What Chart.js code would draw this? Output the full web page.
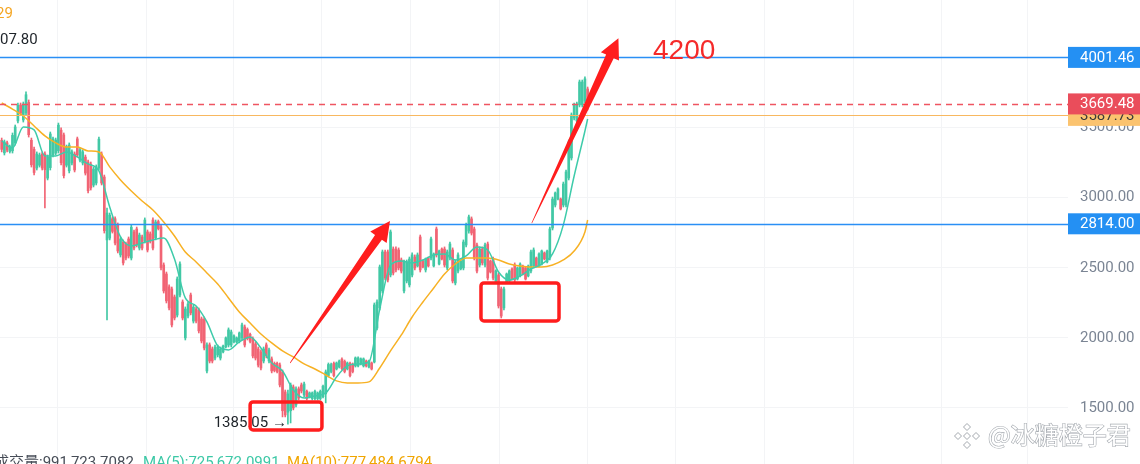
<!DOCTYPE html>
<html><head><meta charset="utf-8">
<script src="https://cdn.jsdelivr.net/npm/chart.js@4"></script>
<style>html,body{margin:0;padding:0;background:#fff;overflow:hidden}canvas{display:block}</style>
</head><body>
<canvas id="c" width="1140" height="464"></canvas>
<script>
// ---- candle data (index = time slot) ----
const openP = [3410,3320,3392,3330,3335,3390,3548,3662,3555,3605,3680,3410,3345,3212,3232,3312,3312,3140,3215,3305,3318,3335,3482,3448,3232,3192,3248,3312,3420,3268,3248,3290,3255,3240,3090,3105,3212,3312,3148,2699,2712,2850,2850,2806,2592,2684,2670,2706,2570,2756,2777,2641,2720,2691,2756,2742,2841,2713,2830,2792,2520,2456,2364,2349,2292,2163,2306,2256,2000,2156,2306,2120,2206,2199,2135,2135,1764,1950,1921,1856,1878,1856,1900,1935,1949,1949,1971,1971,1978,2000,2078,2060,2025,1995,1957,1921,1900,1835,1950,1835,1850,1818,1818,1807,1757,1614,1470,1480,1650,1521,1636,1664,1593,1618,1578,1567,1567,1567,1567,1580,1600,1731,1760,1818,1778,1792,1848,1832,1778,1818,1810,1800,1800,1814,1800,1835,1792,1821,1828,2070,2214,2335,2613,2613,2449,2634,2634,2627,2556,2335,2406,2378,2449,2577,2513,2720,2549,2485,2570,2570,2513,2777,2527,2634,2634,2499,2570,2627,2392,2477,2492,2499,2663,2763,2849,2777,2663,2520,2634,2520,2670,2549,2563,2399,2449,2349,2214,2399,2406,2492,2520,2420,2442,2513,2499,2442,2477,2513,2570,2513,2527,2606,2542,2570,2784,2948,2991,2991,2948,2948,3141,3284,3569,3548,3662,3662,3690,3776];
const highP = [3426,3412,3405,3376,3462,3519,3676,3676,3683,3755,3698,3426,3362,3327,3319,3327,3327,3305,3469,3433,3426,3533,3498,3462,3376,3391,3341,3327,3433,3355,3341,3305,3269,3255,3219,3234,3433,3327,3162,2927,2891,2863,2863,2820,2720,2699,2684,2720,2806,2770,2791,2748,2734,2856,2770,2756,2856,2841,2841,2806,2535,2470,2378,2363,2306,2435,2542,2271,2221,2256,2320,2235,2221,2213,2149,2149,1964,1964,1935,1949,1949,1935,1949,2007,2071,2056,2021,2007,2042,2106,2092,2071,2035,2007,1971,1935,1914,1935,1964,1928,1864,1828,1828,1821,1771,1628,1628,1678,1664,1650,1650,1678,1685,1628,1614,1614,1628,1614,1628,1664,1771,1821,1821,1828,1828,1842,1857,1842,1828,1828,1821,1864,1864,1857,1857,1842,1842,1828,2249,2271,2520,2627,2627,2627,2770,2649,2649,2642,2570,2556,2556,2577,2606,2592,2606,2734,2556,2570,2577,2720,2606,2791,2627,2642,2649,2627,2684,2642,2556,2606,2556,2699,2820,2877,2863,2791,2677,2649,2649,2677,2684,2556,2577,2485,2463,2363,2363,2463,2485,2499,2535,2506,2535,2520,2506,2520,2627,2642,2577,2606,2627,2613,2627,2791,3005,3041,3070,2998,3112,3198,3412,3605,3676,3683,3840,3840,3862,3790];
const lowP = [3327,3305,3327,3319,3319,3376,3533,3590,3540,3590,3433,3219,3162,3198,3219,3198,2927,3127,3198,3291,3305,3319,3234,3141,3219,3177,3234,3184,3291,3255,3234,3162,3034,3055,3077,3091,3198,3091,2748,2128,2699,2748,2663,2606,2577,2520,2556,2570,2556,2627,2649,2627,2627,2677,2613,2677,2627,2699,2770,2485,2320,2249,2199,2078,2128,2149,2292,2128,1985,2142,2164,2106,2106,2035,1964,1914,1750,1821,1821,1842,1864,1842,1892,1928,1935,1935,1964,1964,1964,1985,1935,1985,1964,1857,1842,1792,1771,1821,1857,1821,1750,1757,1750,1650,1436,1436,1385.05,1393,1486,1507,1557,1607,1578,1557,1571,1557,1557,1557,1557,1571,1536,1721,1750,1721,1771,1785,1771,1750,1771,1721,1750,1792,1792,1807,1792,1792,1785,1771,1821,2056,2199,2320,2413,2399,2435,2449,2470,2485,2463,2320,2392,2363,2435,2485,2506,2470,2499,2470,2506,2556,2506,2577,2520,2556,2506,2485,2556,2392,2378,2463,2485,2485,2649,2748,2734,2556,2463,2506,2520,2506,2413,2463,2413,2392,2213,2142,2199,2392,2399,2413,2399,2413,2435,2449,2413,2435,2463,2499,2506,2506,2520,2556,2535,2556,2770,2934,2984,2913,2934,2934,3127,3269,3555,3533,3648,3648,3676,3626];
const closeP = [3345,3398,3340,3365,3445,3505,3660,3602,3668,3735,3450,3235,3180,3312,3305,3212,3200,3290,3455,3420,3412,3518,3250,3158,3362,3376,3328,3198,3305,3342,3328,3176,3050,3070,3205,3220,3418,3105,2765,2891,2876,2760,2677,2620,2706,2535,2570,2584,2790,2641,2663,2734,2641,2841,2627,2691,2641,2827,2780,2500,2335,2264,2214,2092,2142,2420,2527,2142,2206,2242,2178,2220,2120,2050,1978,1928,1950,1835,1835,1935,1935,1921,1942,2000,2057,2042,2014,2000,2035,2092,1949,1995,1975,1871,1856,1806,1785,1921,1871,1914,1764,1767,1760,1664,1480,1450,1600,1664,1500,1636,1571,1621,1671,1567,1607,1607,1618,1607,1618,1655,1757,1810,1810,1731,1821,1835,1780,1760,1821,1731,1760,1857,1857,1850,1850,1800,1835,1778,2235,2256,2506,2613,2427,2413,2756,2463,2485,2499,2477,2542,2542,2563,2592,2499,2592,2485,2506,2563,2513,2706,2599,2592,2620,2563,2520,2613,2670,2406,2542,2592,2549,2684,2806,2863,2748,2570,2477,2634,2535,2663,2427,2470,2427,2478,2228,2156,2349,2456,2478,2420,2413,2499,2527,2456,2420,2513,2613,2627,2513,2599,2620,2563,2620,2777,2991,3034,3063,2920,3098,3184,3398,3591,3662,3669,3826,3826,3848,3669.48];

// ---- moving averages ----
const maIdx  = [0,4,8,12,16,20,24,28,32,36,40,44,48,52,56,60,64,68,72,76,80,84,88,92,96,100,104,108,112,116,120,124,128,132,136,140,144,148,152,156,160,164,168,172,176,180,184,188,192,196,200,204,208,212,216,217];
const maFast = [3405,3355,3505,3484,3298,3298,3327,3291,3241,3191,2934,2720,2656,2677,2699,2713,2563,2285,2228,2114,1943,1914,1971,2007,1928,1821,1764,1628,1571,1586,1607,1721,1800,1814,1828,2206,2520,2549,2535,2556,2592,2599,2556,2585,2649,2627,2470,2413,2442,2492,2527,2599,2806,3155,3476,3562];
const maSlow = [3676,3633,3583,3512,3441,3391,3362,3362,3334,3327,3220,3127,3048,2977,2913,2827,2727,2613,2542,2463,2385,2285,2185,2106,2028,1964,1907,1864,1814,1778,1735,1693,1678,1678,1686,1785,1907,2021,2149,2256,2356,2456,2527,2570,2570,2570,2556,2527,2513,2506,2506,2520,2556,2620,2756,2841];

// ---- axis ticks ----
const priceTicks = [1500,2000,2500,3000,3500,4000];
const timeTicks  = [4,37,70,102,135,168,201,233,266,299,332,364];

// ---- levels and annotations (data coordinates) ----
const resistLevel = 4001.46, supportLevel = 2814.00, lastPrice = 3669.48, maLevel = 3587.73;
const lowIdx = 106, lowValue = 1385.05;
const arrowFrom = [[106.8,1821],[196.3,2818]];
const arrowTo   = [[143.8,2834],[228.4,4138]];
const boxX = [[92.0,118.6],[177.5,206.4]];
const boxY = [[1343,1543],[2121,2392]];
const targetText = '4200', targetIdx = 241.2, targetValue = 3990;

const UP = '#42c8a5', DOWN = '#f16474';
const candleColors = closeP.map((c,i)=> c >= openP[i] ? UP : DOWN);

function drawArrow(ctx,x0,y0,x1,y1){
  const dx=x1-x0, dy=y1-y0, L=Math.hypot(dx,dy), ux=dx/L, uy=dy/L, nx=-uy, ny=ux;
  const headL=20, headW=10, w0=0.3, w1=4.2;
  const bx=x0+ux*(L-headL), by=y0+uy*(L-headL);
  ctx.beginPath();
  ctx.moveTo(x0+nx*w0,y0+ny*w0);
  ctx.lineTo(bx+nx*w1,by+ny*w1);
  ctx.lineTo(bx+nx*headW,by+ny*headW);
  ctx.lineTo(x1,y1);
  ctx.lineTo(bx-nx*headW,by-ny*headW);
  ctx.lineTo(bx-nx*w1,by-ny*w1);
  ctx.lineTo(x0-nx*w0,y0-ny*w0);
  ctx.closePath(); ctx.fill();
}
function diamond(ctx,cx,cy,r){ctx.beginPath();ctx.moveTo(cx,cy-r);ctx.lineTo(cx+r,cy);ctx.lineTo(cx,cy+r);ctx.lineTo(cx-r,cy);ctx.closePath();ctx.fill();ctx.stroke();}

const overlay = {
  id:'overlay',
  afterDatasetsDraw(chart){
    const {ctx, chartArea:a, scales:{y}} = chart;
    ctx.save();
    const hl=(v,color,w,dash)=>{const py=Math.round(y.getPixelForValue(v))+0.5;ctx.beginPath();ctx.setLineDash(dash||[]);ctx.strokeStyle=color;ctx.lineWidth=w;ctx.moveTo(a.left,py);ctx.lineTo(a.right,py);ctx.stroke();};
    hl(maLevel,'#f8b860',1);
    hl(resistLevel,'#2a8ff5',1.5);
    hl(supportLevel,'#2a8ff5',1.5);
    hl(lastPrice,'#ef5561',1.5,[6,5]);
    ctx.restore();
  },
  afterDraw(chart){
    const {ctx, chartArea:a, scales:{x,y}} = chart;
    ctx.save();
    // low marker text
    ctx.font='15px Roboto'; ctx.fillStyle='#1e2329'; ctx.textAlign='right'; ctx.textBaseline='middle';
    ctx.fillText(lowValue.toFixed(2)+' \u2192', x.getPixelForValue(lowIdx)-1, y.getPixelForValue(lowValue)-1);
    // arrows
    ctx.fillStyle='#ff1d1d';
    for(let k=0;k<arrowFrom.length;k++){
      drawArrow(ctx,x.getPixelForValue(arrowFrom[k][0]),y.getPixelForValue(arrowFrom[k][1]),x.getPixelForValue(arrowTo[k][0]),y.getPixelForValue(arrowTo[k][1]));
    }
    // boxes
    ctx.strokeStyle='#ff1d1d'; ctx.lineWidth=3.5;
    for(let k=0;k<boxX.length;k++){
      const x0=x.getPixelForValue(boxX[k][0]), x1=x.getPixelForValue(boxX[k][1]);
      const y0=y.getPixelForValue(boxY[k][1]), y1=y.getPixelForValue(boxY[k][0]);
      ctx.beginPath(); ctx.roundRect(x0,y0,x1-x0,y1-y0,3); ctx.stroke();
    }
    // target text
    ctx.font='28px "Liberation Sans", Arial'; ctx.fillStyle='#f52a2a'; ctx.textAlign='left'; ctx.textBaseline='alphabetic';
    ctx.fillText(targetText, x.getPixelForValue(targetIdx), y.getPixelForValue(targetValue));
    // right side price labels
    const tag=(v,bg,fg)=>{const py=y.getPixelForValue(v);ctx.fillStyle=bg;ctx.fillRect(a.right,py-10.5,chart.width-a.right,21);ctx.fillStyle=fg;ctx.font='15px Roboto';ctx.textAlign='left';ctx.textBaseline='middle';ctx.fillText(v.toFixed(2),a.right+12,py+0.5);};
    tag(maLevel,'#fbc36f','#3a3a3a');
    tag(lastPrice,'#ea4d5b','#ffffff');
    tag(resistLevel,'#2490f3','#ffffff');
    tag(supportLevel,'#2490f3','#ffffff');
    // top-left cut legend texts
    ctx.textAlign='left'; ctx.textBaseline='middle'; ctx.font='15px Roboto';
    ctx.fillStyle='#f5a623'; ctx.fillText('29',-4,14);
    ctx.fillStyle='#1e2329'; ctx.fillText('07.80',0,40);
    // bottom volume legend
    ctx.textBaseline='alphabetic'; ctx.font='15px Roboto, "Noto Sans CJK SC"';
    ctx.fillStyle='#474d57'; ctx.fillText('成交量:991,723.7082',-6,467);
    ctx.fillStyle='#3cc8a6'; ctx.fillText('MA(5):725,672.0991',143,467);
    ctx.fillStyle='#f0a500'; ctx.fillText('MA(10):777,484.6794',287,467);
    // watermark
    ctx.fillStyle='#ffffff'; ctx.strokeStyle='#a3a8ae'; ctx.lineWidth=1;
    diamond(ctx,967,436,3.5); diamond(ctx,967,427,3.5); diamond(ctx,967,445,3.5); diamond(ctx,958,436,3.5); diamond(ctx,976,436,3.5);
    ctx.font='24px "Noto Sans CJK SC"'; ctx.textBaseline='middle'; ctx.lineWidth=1.2;
    ctx.strokeText('@冰糖橙子君',988,435); ctx.fillText('@冰糖橙子君',988,435);
    ctx.restore();
  }
};

new Chart(document.getElementById('c'), {
  type:'bar',
  data:{datasets:[
    {type:'line', data: maIdx.map((v,k)=>({x:v,y:maFast[k]})), borderColor:'#3ecbaa', borderWidth:1.5, pointRadius:0, cubicInterpolationMode:'monotone', order:0},
    {type:'line', data: maIdx.map((v,k)=>({x:v,y:maSlow[k]})), borderColor:'#f7b124', borderWidth:1.5, pointRadius:0, cubicInterpolationMode:'monotone', order:0},
    {data: highP.map((h,i)=>({x:i,y:[lowP[i],h]})), backgroundColor:candleColors, barThickness:1, grouped:false, order:2},
    {data: openP.map((o,i)=>({x:i,y:[o,closeP[i]]})), backgroundColor:candleColors, barThickness:2, grouped:false, order:1}
  ]},
  options:{
    responsive:false, animation:false,
    layout:{padding:0},
    plugins:{legend:{display:false}, tooltip:{enabled:false}},
    scales:{
      x:{type:'linear', min:-0.63, max:394.9, offset:false,
         grid:{color:'#f3f4f6', drawTicks:false}, border:{display:false}, ticks:{display:false},
         afterBuildTicks:s=>{s.ticks=timeTicks.map(v=>({value:v}));},
         afterFit:s=>{s.height=0; s.paddingLeft=0; s.paddingRight=0;}},
      y:{position:'right', min:1100, max:4411,
         grid:{color:'#f3f4f6', drawTicks:false}, border:{display:false},
         ticks:{padding:12, color:'#7b8594', font:{family:'Roboto', size:15}, callback:v=>Number(v).toFixed(2)},
         afterBuildTicks:s=>{s.ticks=priceTicks.map(v=>({value:v}));},
         afterFit:s=>{s.width=72; s.paddingTop=0; s.paddingBottom=0;}}
    }
  },
  plugins:[overlay]
});
</script>
</body></html>
